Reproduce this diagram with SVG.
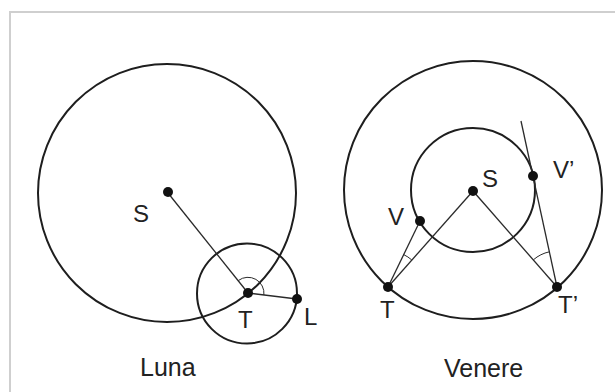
<svg xmlns="http://www.w3.org/2000/svg" width="615" height="392" viewBox="0 0 615 392">
<style>
.orb{fill:none;stroke:#1e1e1e;stroke-width:2}
.ln{fill:none;stroke:#2a2a2a;stroke-width:1.3}
.ang{fill:none;stroke:#2a2a2a;stroke-width:1}
.dot{fill:#111}
.lb{font-family:"Liberation Sans",Arial,sans-serif;font-size:24px;fill:#222}
.cap{font-family:"Liberation Sans",Arial,sans-serif;font-size:25px;fill:#222}
</style>
<rect x="0" y="0" width="615" height="392" fill="#fff"/>
<rect x="10" y="12" width="620" height="400" fill="none" stroke="#cfcfcf" stroke-width="2"/>
<g id="luna">
  <circle class="orb" cx="167" cy="193" r="129"/>
  <circle class="orb" cx="247" cy="293.5" r="50"/>
</g>
<g id="venere">
  <circle class="orb" cx="473" cy="190" r="129"/>
  <circle class="orb" cx="473" cy="190" r="62"/>
</g>
<g id="connectors">
  <line class="ln" x1="168" y1="193" x2="248" y2="293"/>
  <line class="ln" x1="248" y1="293" x2="297" y2="299"/>
  <path class="ang" d="M238.4 280.5 A16 16 0 0 1 263.9 295"/>
  <line class="ln" x1="388" y1="287" x2="473" y2="191"/>
  <line class="ln" x1="388" y1="287" x2="420" y2="221"/>
  <line class="ln" x1="473" y1="191" x2="557" y2="287"/>
  <line class="ln" x1="557" y1="287" x2="521" y2="121"/>
  <path class="ang" d="M403.7 254.6 A36 36 0 0 1 411.7 259.9"/>
  <path class="ang" d="M533.4 259.8 A36 36 0 0 1 549.4 251.8"/>
</g>
<g id="points">
  <circle class="dot" cx="168" cy="192" r="5"/>
  <circle class="dot" cx="248" cy="293" r="5"/>
  <circle class="dot" cx="297" cy="299" r="5"/>
  <circle class="dot" cx="473" cy="191" r="5"/>
  <circle class="dot" cx="533" cy="176" r="5"/>
  <circle class="dot" cx="420" cy="221" r="5"/>
  <circle class="dot" cx="388" cy="287" r="5"/>
  <circle class="dot" cx="557" cy="287" r="5"/>
</g>
<g id="labels">
  <text class="lb" x="133" y="222">S</text>
  <text class="lb" x="238" y="328">T</text>
  <text class="lb" x="304" y="325">L</text>
  <text class="lb" x="482" y="187">S</text>
  <text class="lb" x="553" y="178">V’</text>
  <text class="lb" x="388" y="225">V</text>
  <text class="lb" x="380" y="318">T</text>
  <text class="lb" x="558" y="313">T’</text>
  <text class="cap" x="140" y="376">Luna</text>
  <text class="cap" x="444" y="377">Venere</text>
</g>
</svg>
